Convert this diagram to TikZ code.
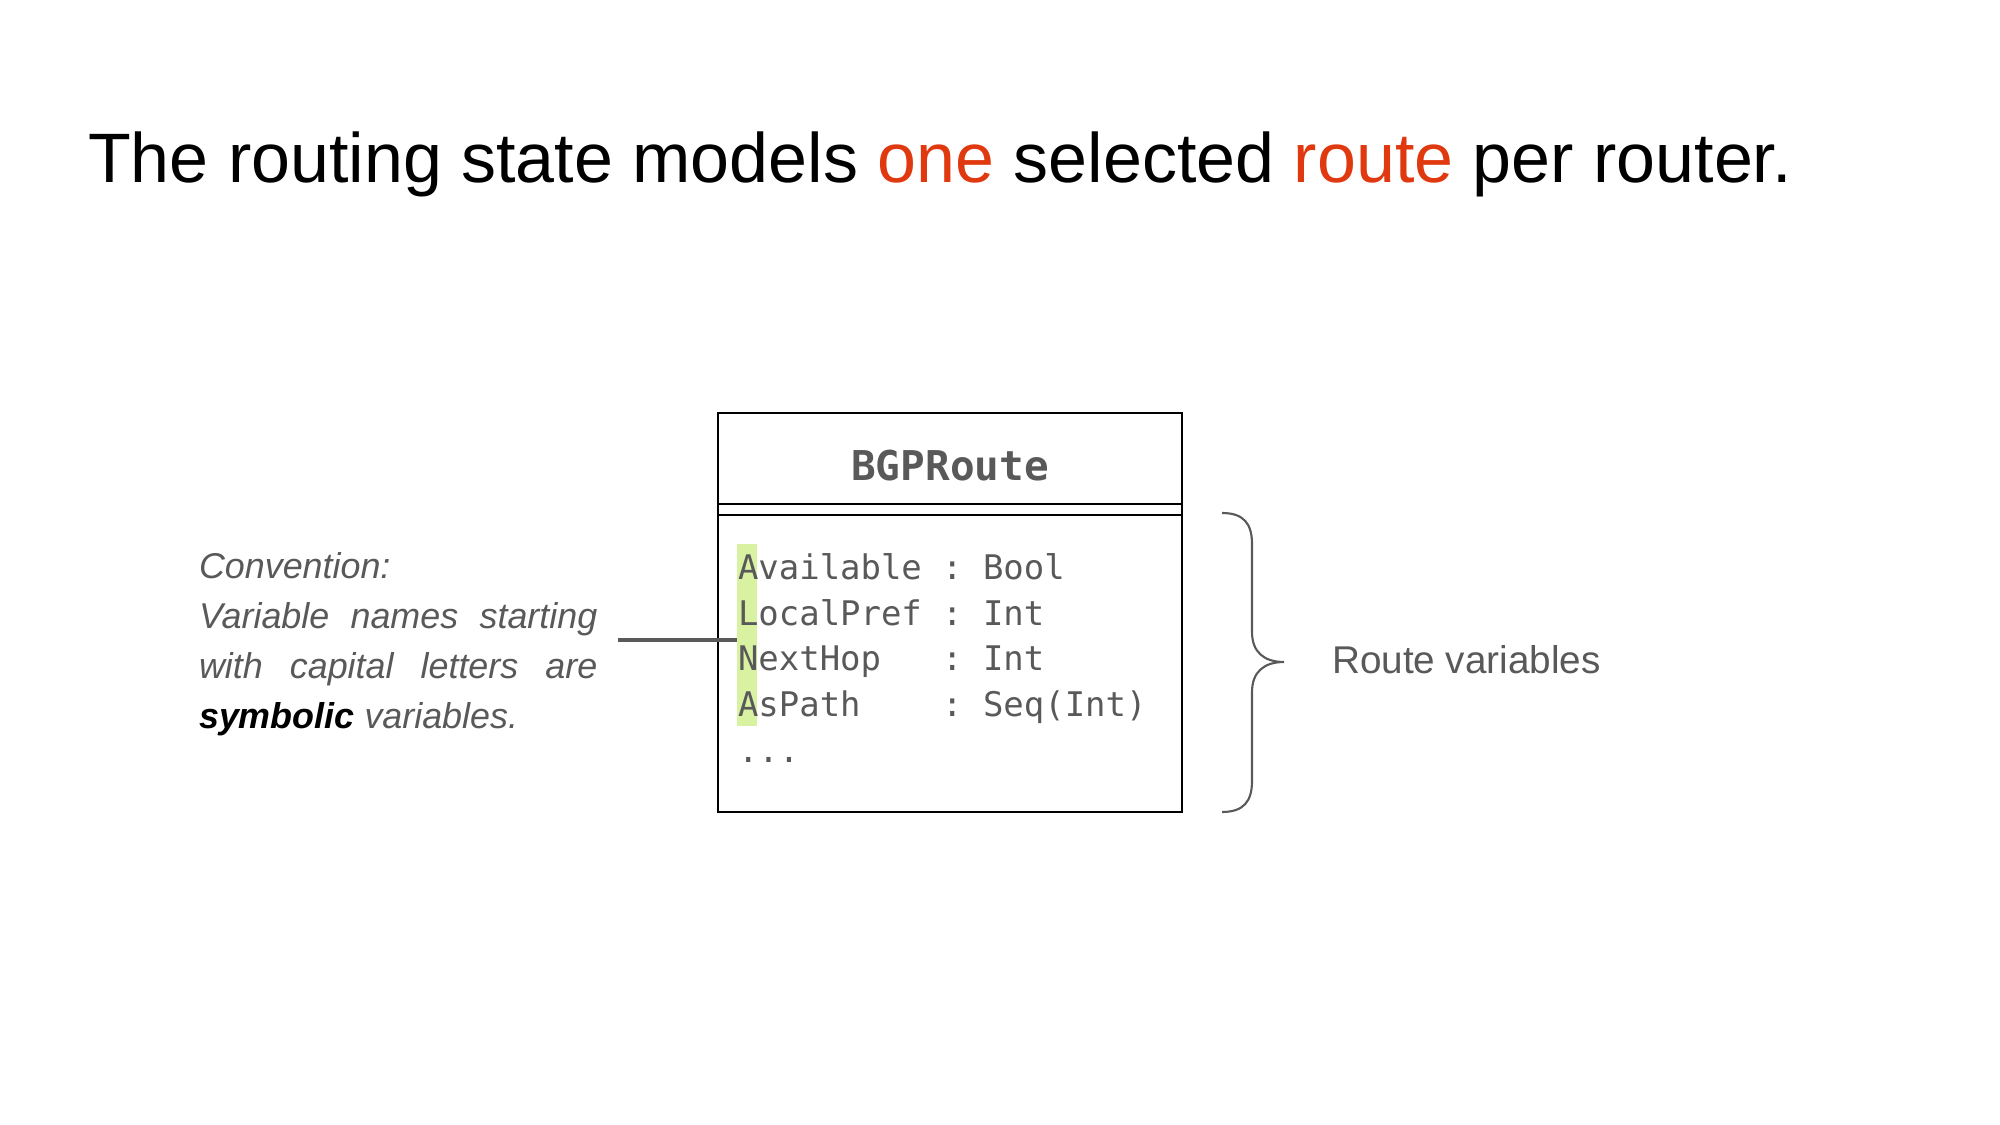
\documentclass[tikz,border=0pt]{standalone}
\usepackage{fontspec}
\setmainfont{Liberation Sans}
\setmonofont{DejaVu Sans Mono}
\usetikzlibrary{calc}
\definecolor{slidegray}{HTML}{595959}
\definecolor{slidered}{HTML}{E0380F}
\definecolor{hlgreen}{HTML}{D9F2A2}
\newcommand{\hlred}[1]{\textcolor{slidered}{#1}}

\begin{document}
\begin{tikzpicture}[x=0.01cm, y=-0.01cm, line width=0.6pt,
  headline/.style={font=\fontsize{19.9}{24}\selectfont, inner sep=0pt},
  note/.style={font=\fontsize{10.2}{14.23}\selectfont\itshape, text=slidegray,
    text width=3.98cm, align=justify, inner sep=0pt},
  sidetext/.style={font=\fontsize{11}{13}\selectfont, text=slidegray, inner sep=0pt},
  classbox/.style={draw, minimum width=4.64cm, minimum height=3.99cm, inner sep=0pt},
  classname/.style={font=\ttfamily\bfseries\fontsize{11.67}{14}\selectfont, text=slidegray, inner sep=0pt},
  field/.style={font=\ttfamily\fontsize{9.65}{12}\selectfont, text=slidegray, inner sep=0pt, anchor=base west},
  hilite/.style={fill=hlgreen},
  link/.style={draw=slidegray, line width=1.15pt},
  curly/.style={draw=slidegray, line width=0.6pt}]
  \useasboundingbox (0,0) rectangle (2000,1125);

  \node[headline, anchor=base west] (title) at (87,183)
    {The routing state models \hlred{one} selected \hlred{route} per router.};

  % class box
  \node[classbox] (cls) at (950,612.5) {};
  \node[classname, anchor=base] (cname) at (950,481) {BGPRoute};
  \draw ($(cls.north west)+(0,92)$) -- ($(cls.north east)+(0,92)$);
  \draw ($(cls.north west)+(0,103)$) -- ($(cls.north east)+(0,103)$);

  \foreach \fname/\ftype [count=\i from 0] in {Available/Bool, LocalPref/Int, NextHop/Int, AsPath/{Seq(Int)}} {
    \fill[hilite] (737,580+45.5*\i-36) rectangle (757.4,580+45.5*\i+9.5);
    \node[field] (fld\i) at (737,580+45.5*\i) {\fname};
    \node[field] (col\i) at (941,580+45.5*\i) {:};
    \node[field] (typ\i) at (982,580+45.5*\i) {\ftype};
  }
  \node[field] (dots) at (737,762) {...};
  \coordinate (hook) at (fld0.west |- 0,640);

  % convention note
  \node[note, anchor=north west] (note) at (198,551)
    {Convention:\\ Variable names starting\linebreak with capital letters are\linebreak
     \textcolor{black}{\bfseries symbolic} variables.};
  \draw[link] (note.east |- hook) ++(20,0) -- (hook);

  % brace
  \draw[curly] (1222,513) .. controls (1244,513) and (1252,524) .. (1252,544)
    -- (1252,632) .. controls (1252,652) and (1264,662) .. (1284,662)
    .. controls (1264,662) and (1252,672) .. (1252,692)
    -- (1252,781) .. controls (1252,801) and (1244,812) .. (1222,812);
  \node[sidetext, anchor=base west] (side) at (1331,674) {Route variables};
\end{tikzpicture}
\end{document}
